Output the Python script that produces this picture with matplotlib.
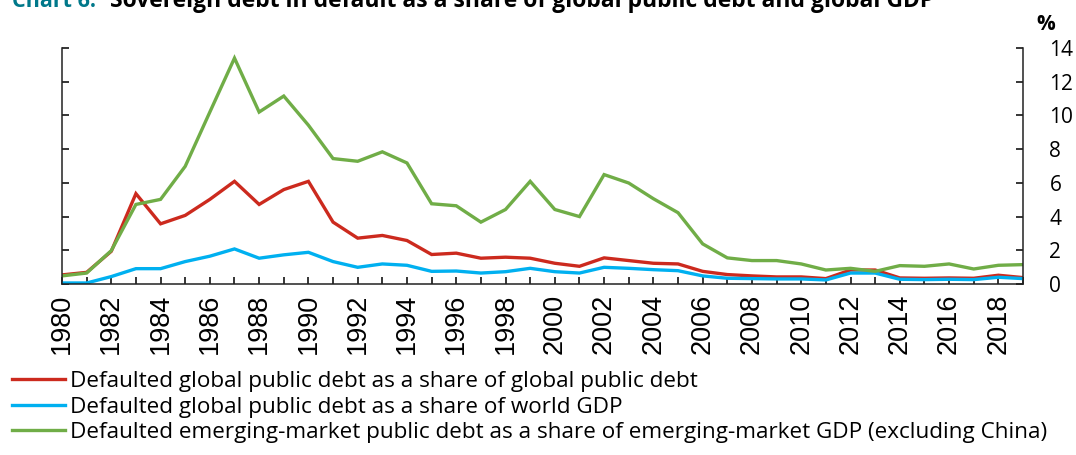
import matplotlib
matplotlib.use("Agg")
import matplotlib.pyplot as plt

years = list(range(1980, 2020))

# defaulted global public debt, % of global public debt
share_debt = [0.54, 0.69, 1.94, 5.36, 3.57, 4.07, 5.02, 6.09, 4.72, 5.60,
              6.09, 3.67, 2.72, 2.88, 2.58, 1.75, 1.83, 1.53, 1.59, 1.53,
              1.23, 1.05, 1.55, 1.39, 1.23, 1.19, 0.75, 0.56, 0.48, 0.42,
              0.42, 0.32, 0.83, 0.83, 0.36, 0.34, 0.36, 0.34, 0.52, 0.38]

# defaulted global public debt, % of world GDP
share_gdp = [0.06, 0.06, 0.44, 0.91, 0.91, 1.33, 1.65, 2.08, 1.53, 1.73,
             1.88, 1.33, 0.99, 1.19, 1.11, 0.75, 0.77, 0.65, 0.73, 0.93,
             0.73, 0.65, 0.99, 0.93, 0.85, 0.79, 0.48, 0.34, 0.32, 0.30,
             0.30, 0.24, 0.65, 0.65, 0.28, 0.26, 0.28, 0.26, 0.40, 0.32]

# defaulted EM public debt, % of EM GDP (ex China)
share_em = [0.48, 0.65, 1.98, 4.72, 5.02, 6.98, 10.2, 13.4, 10.2, 11.15,
            9.42, 7.44, 7.28, 7.84, 7.18, 4.76, 4.64, 3.67, 4.42, 6.09,
            4.42, 4.00, 6.49, 5.99, 5.06, 4.23, 2.38, 1.55, 1.39, 1.39,
            1.19, 0.83, 0.93, 0.75, 1.09, 1.05, 1.19, 0.89, 1.11, 1.15]

labels = ["Defaulted global public debt as a share of global public debt",
          "Defaulted global public debt as a share of world GDP",
          "Defaulted emerging-market public debt as a share of emerging-market GDP (excluding China)"]
colors = ["#CC2A1E", "#00B0F0", "#70AD47"]

txt_font = ["Open Sans", "DejaVu Sans"]

fig = plt.figure(figsize=(10.76, 4.55), dpi=100)
ax = fig.add_axes([62 / 1076, (455 - 284) / 455, (1023 - 62) / 1076, (284 - 48) / 455])

for vals, col, lab in zip([share_debt, share_gdp, share_em], colors, labels):
    ax.plot(years, vals, color=col, lw=2.4, label=lab, solid_joinstyle="miter")

ax.set_xlim(1980, 2019)
ax.set_ylim(0, 14)
ax.set_yticks(range(0, 15, 2))
ax.set_xticks(years)
ax.set_xticklabels([str(y) if (y - 1980) % 2 == 0 else "" for y in years],
                   rotation=90, fontsize=19.5, family="Liberation Sans")

ax.spines["top"].set_visible(False)
for s in ["left", "right", "bottom"]:
    ax.spines[s].set_linewidth(1.1)
    ax.spines[s].set_color("#222222")
ax.tick_params(axis="x", direction="in", length=5, width=1.1, pad=7)
ax.tick_params(axis="y", direction="in", length=5, width=1.1, left=True, right=True,
               labelleft=False, labelright=True, pad=19)
for t in ax.get_yticklabels():
    t.set_fontsize(15)
    t.set_family(txt_font)
    t.set_horizontalalignment("left")

fig.text(1036 / 1076, 1 - 30 / 455, "%", fontsize=15, fontweight="bold",
         family=txt_font)

# title sits mostly above the crop, as in the source image
fig.text(12 / 1076, 1 - 7 / 455, "Chart 6:", fontsize=15.5, fontweight="bold",
         color="#00788A", family=txt_font, va="baseline")
fig.text(110 / 1076, 1 - 7 / 455,
         "Sovereign debt in default as a share of global public debt and global GDP",
         fontsize=16.5, fontweight="bold", family=txt_font, va="baseline")

fig.legend(loc="upper left", bbox_to_anchor=(12 / 1076, 1 - 371 / 455),
           frameon=False, prop={"family": txt_font, "size": 16.2},
           handlelength=2.35, handletextpad=0.22, labelspacing=0.2,
           borderpad=0, borderaxespad=0)

fig.savefig("out.png", dpi=100)
